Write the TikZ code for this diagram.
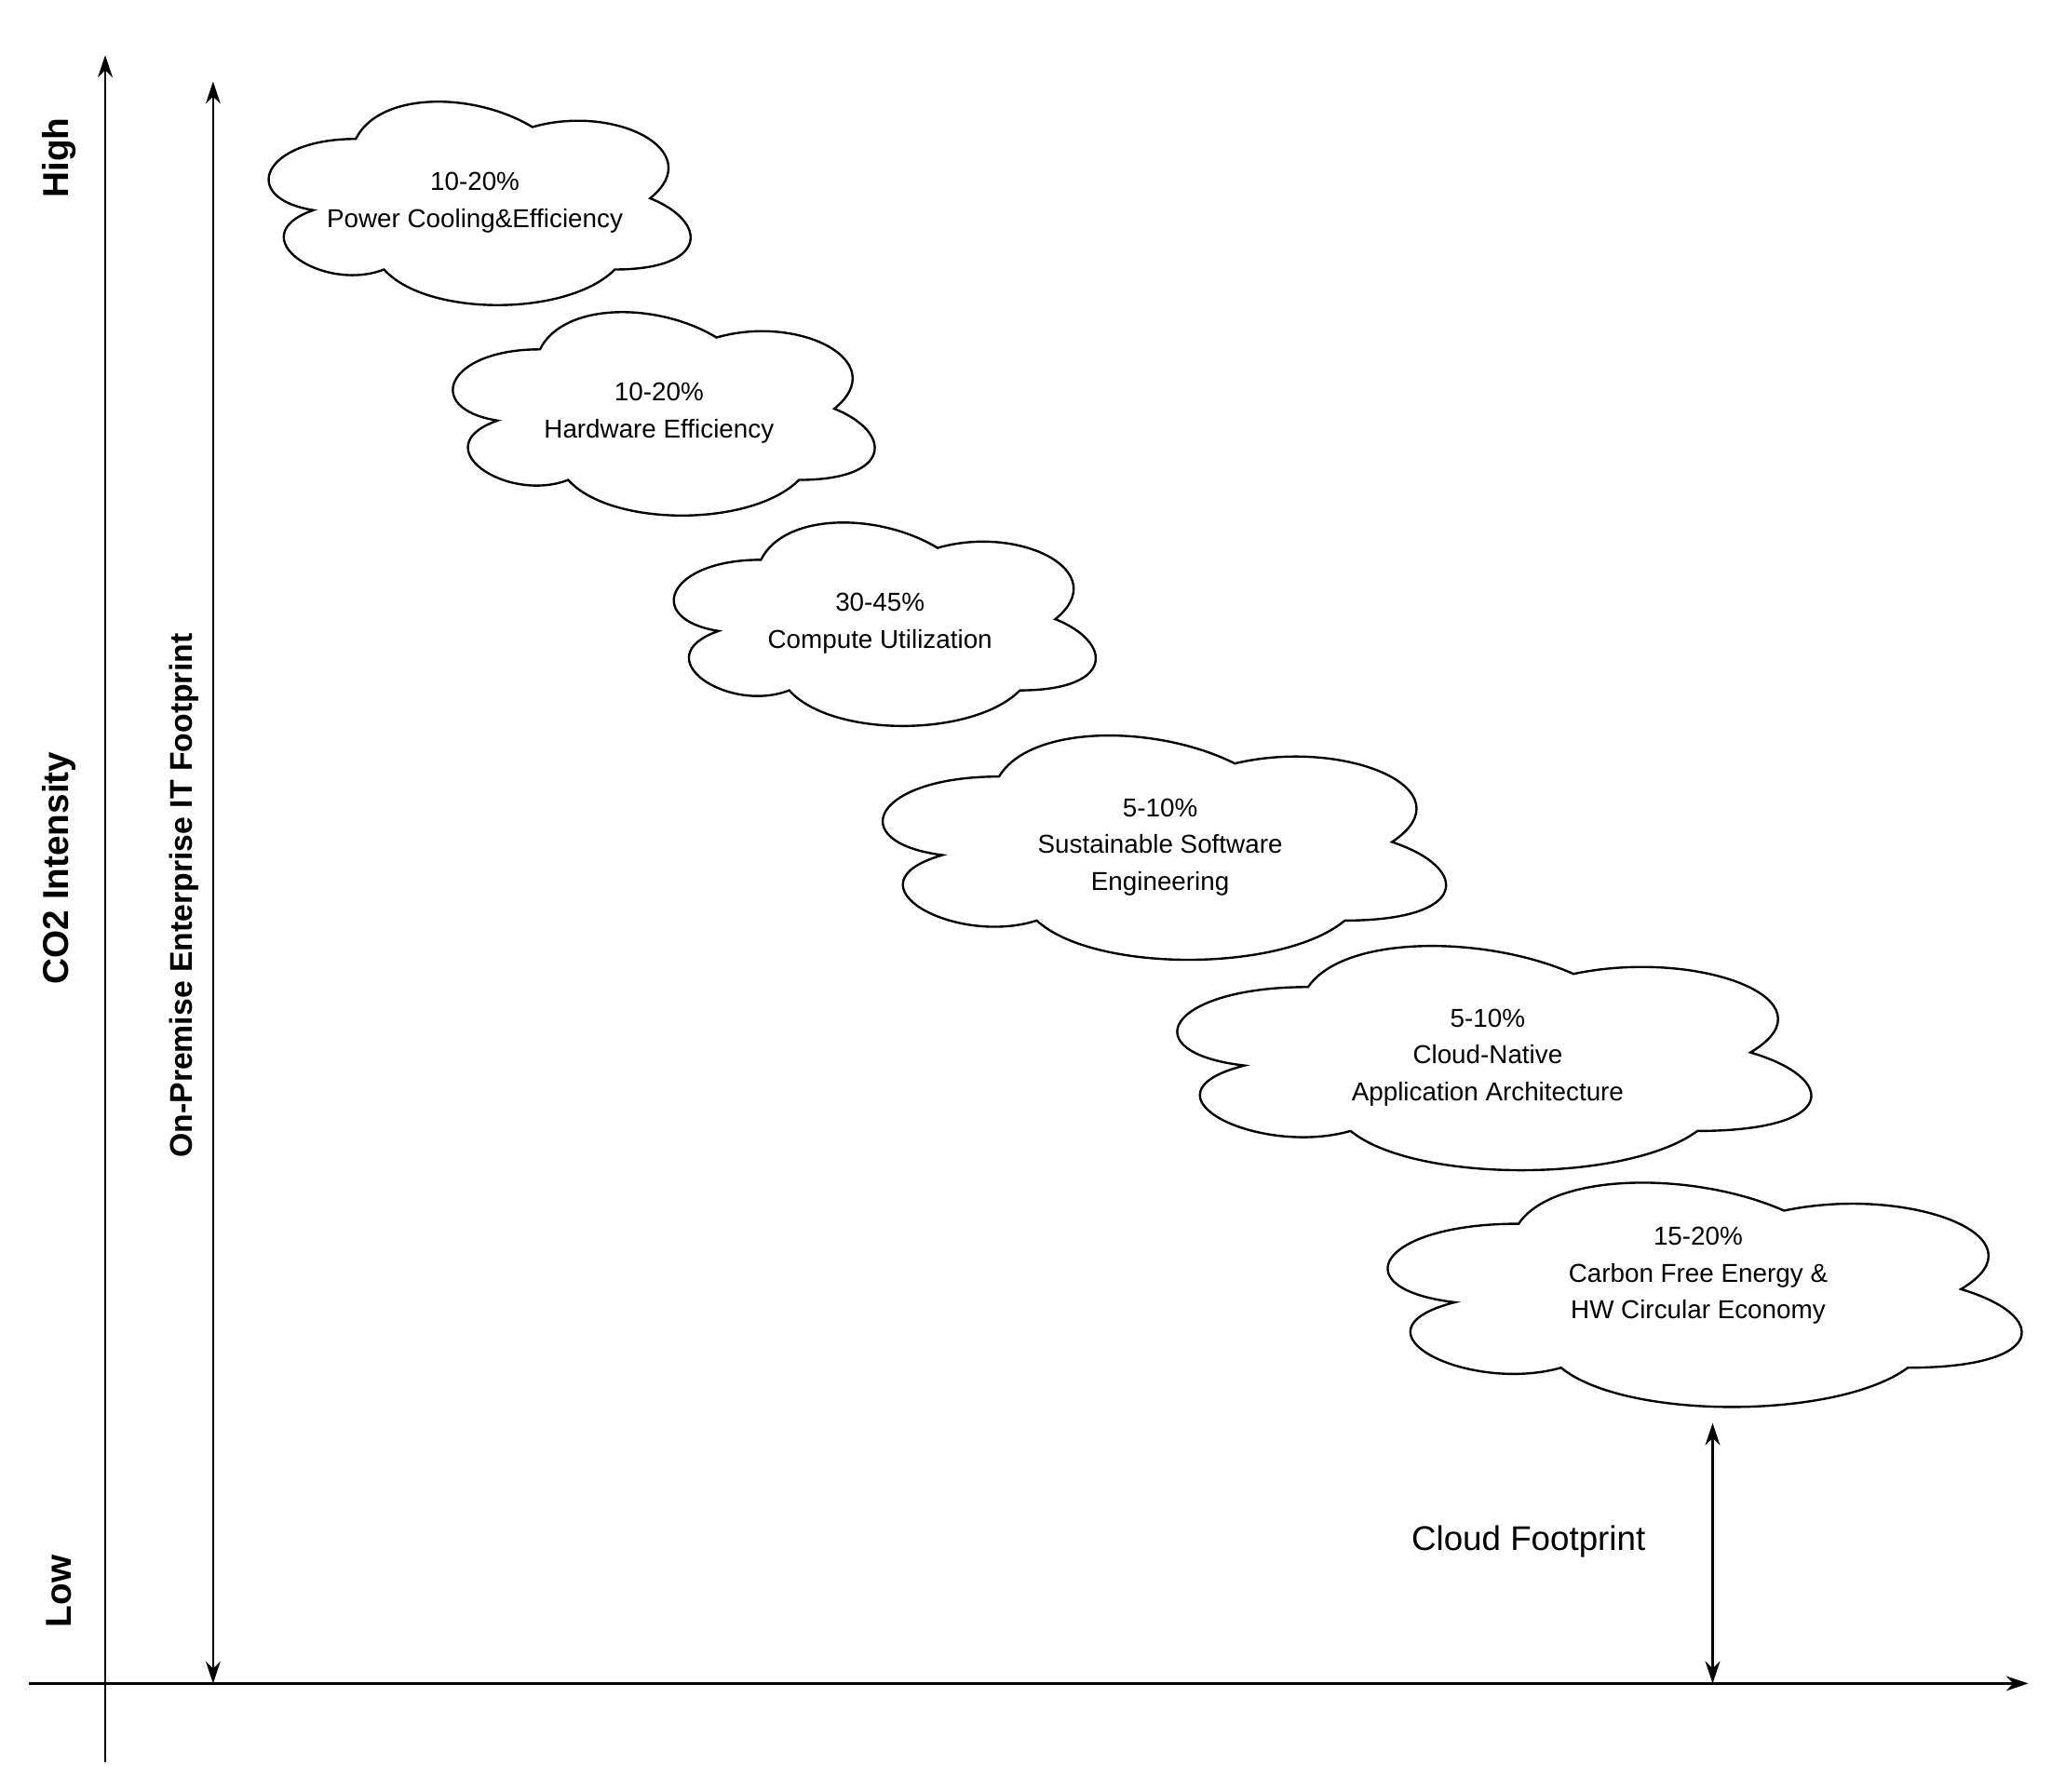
\documentclass[tikz,border=0pt]{standalone}
\usepackage{fontspec}
\setmainfont{Liberation Sans}
\usetikzlibrary{arrows.meta}
\newcommand\mycloud[4]{%
\begin{scope}[shift={(#1,#2)},xscale=#3,yscale=#4]
\draw[line width=1.2pt] (0.25,0.25) .. controls (0.05,0.25) and (0,0.5) .. (0.16,0.55)
 .. controls (0,0.66) and (0.18,0.9) .. (0.31,0.8)
 .. controls (0.4,1) and (0.7,1) .. (0.8,0.8)
 .. controls (1,0.8) and (1,0.6) .. (0.875,0.5)
 .. controls (1,0.3) and (0.8,0.1) .. (0.625,0.2)
 .. controls (0.5,0.05) and (0.3,0.05) .. (0.25,0.25) -- cycle;
\end{scope}}
\begin{document}
\begin{tikzpicture}[x=0.025cm,y=-0.025cm,
  tx/.style={align=center,font=\fontsize{14}{19.8}\selectfont},
  ax/.style={line width=1.2pt,-{Stealth[length=12pt,width=8pt]}},
  dax/.style={line width=1.2pt,{Stealth[length=12pt,width=8pt]}-{Stealth[length=12pt,width=8pt]}},
  lab/.style={font=\fontsize{19.5}{20}\selectfont\bfseries,rotate=90}]
\useasboundingbox (0,0) rectangle (1560,1362);
\coordinate (ybot) at (80,1340); \coordinate (ytop) at (80,42);
\coordinate (xl) at (22,1280); \coordinate (xr) at (1542,1280);
\draw[ax] (ybot) -- (ytop);
\draw[ax] (xl) -- (xr);
\coordinate (o1) at (162,1280); \coordinate (o2) at (162,62);
\draw[dax] (o1) -- (o2);
\coordinate (c1) at (1302,1280); \coordinate (c2) at (1302,1082);
\draw[dax] (c1) -- (c2);
\node[lab] (hi) at (45,120) {High};
\node[lab] (co) at (45,660) {CO2 Intensity};
\node[lab] (lo) at (45,1210) {Low};
\node[lab,font=\fontsize{17}{18}\selectfont\bfseries] (op) at (140,681) {On-Premise Enterprise IT Footprint};
\node[font=\fontsize{18.5}{20}\selectfont] (cf) at (1162,1172) {Cloud Footprint};
\mycloud{181}{60.5}{358}{180.5}
\mycloud{321}{220.5}{358}{180.5}
\mycloud{489}{380.5}{358}{180.5}
\mycloud{640}{540.7}{478}{199}
\mycloud{860}{700.7}{538}{199}
\mycloud{1020}{880.7}{538}{199}
\node[tx] (t1) at (361,154) {10-20\%\\Power Cooling\&Efficiency};
\node[tx] (t2) at (501,314) {10-20\%\\Hardware Efficiency};
\node[tx] (t3) at (669,474) {30-45\%\\Compute Utilization};
\node[tx] (t4) at (882,644) {5-10\%\\Sustainable Software\\Engineering};
\node[tx] (t5) at (1131,804) {5-10\%\\Cloud-Native\\Application Architecture};
\node[tx] (t6) at (1291,970) {15-20\%\\Carbon Free Energy \&\\HW Circular Economy};
\end{tikzpicture}
\end{document}
